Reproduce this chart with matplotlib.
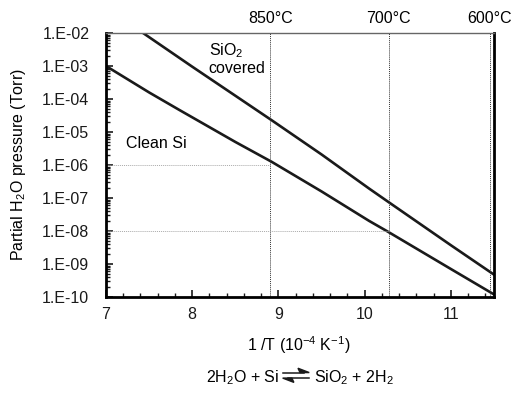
import numpy as np
import matplotlib
matplotlib.use("Agg")
import matplotlib.pyplot as plt
from matplotlib.ticker import MultipleLocator, LogLocator, NullFormatter
from matplotlib.patches import Polygon
from matplotlib.lines import Line2D

plt.rcParams['font.family'] = ['Liberation Sans', 'DejaVu Sans']
plt.rcParams['mathtext.fontset'] = 'custom'
plt.rcParams['mathtext.rm'] = 'Liberation Sans'
plt.rcParams['mathtext.it'] = 'Liberation Sans'

# data (1/T in 1e-4 K^-1, log10 pressure in Torr)
clean_x = [7.0, 7.5, 7.85, 8.5, 8.92, 9.5, 10.05, 10.27, 11.0, 11.5]
clean_log = [-3.0, -3.80, -4.33, -5.30, -5.90, -6.80, -7.69, -8.02, -9.15, -9.92]
oxide_x = [7.43, 8.0, 8.5, 8.92, 9.5, 10.05, 10.27, 11.0, 11.5]
oxide_log = [-2.0, -3.02, -3.90, -4.64, -5.68, -6.71, -7.11, -8.43, -9.32]
temps_c = [850, 700, 600]
guide_p = [1e-6, 1e-8]        # horizontal guides
guide_stop = [850, 700]       # which temperature line each guide runs to

FS = 11.5
fig = plt.figure(figsize=(5.12, 3.93), dpi=100)
ax = fig.add_axes([0.207, 0.244, 0.758, 0.672])

ax.plot(clean_x, 10 ** np.array(clean_log), color='#1a1a1a', lw=1.9)
ax.plot(oxide_x, 10 ** np.array(oxide_log), color='#1a1a1a', lw=1.9)

inv_t = [1e4 / (t + 273.15) for t in temps_c]
for xv, t in zip(inv_t, temps_c):
    ax.axvline(xv, color='#333333', lw=0.7, ls=(0, (1, 1)))
    ax.text(xv, 1.65e-2, f"{t}°C", ha='center', va='bottom', fontsize=FS)

for p, t in zip(guide_p, guide_stop):
    ax.plot([7, 1e4 / (t + 273.15)], [p, p], color='#aaaaaa', lw=0.7, ls=(0, (1, 1)))

ax.set_yscale('log')
ax.set_xlim(7, 11.5)
ax.set_ylim(1e-10, 1e-2)
ax.xaxis.set_major_locator(MultipleLocator(1))
ax.xaxis.set_minor_locator(MultipleLocator(0.2))
ax.yaxis.set_minor_locator(LogLocator(base=10, subs=np.arange(2, 10), numticks=20))
ax.yaxis.set_minor_formatter(NullFormatter())
ax.set_yticks([10.0 ** k for k in range(-10, -1)])
ax.set_yticklabels([f"1.E-{-k:02d}" for k in range(-10, -1)])
ax.tick_params(which='both', direction='in', labelsize=FS, colors='#1a1a1a')
ax.tick_params(which='major', length=5, width=1.2)
ax.tick_params(which='minor', length=3, width=1.0)
ax.tick_params(axis='x', pad=7)
ax.tick_params(axis='y', pad=12)

for s in ['left', 'bottom', 'right']:
    ax.spines[s].set_linewidth(2)
ax.spines['top'].set_linewidth(1)
ax.spines['top'].set_color('#666666')

ax.text(8.19, 10 ** -2.52, "SiO$_2$", fontsize=FS, va='center')
ax.text(8.19, 10 ** -3.08, "covered", fontsize=FS, va='center')
ax.text(7.23, 10 ** -5.36, "Clean Si", fontsize=FS, va='center')

fig.text(0.037, 0.58, "Partial H$_2$O pressure (Torr)", rotation=90,
         ha='center', va='center', fontsize=FS)
fig.text(0.583, 0.122, "1 /T (10$^{-4}$ K$^{-1}$)", ha='center', va='center', fontsize=FS)

# reaction line: text, double harpoon, text
ty = 0.040
fig.text(0.545, ty, "2H$_2$O + Si", ha='right', va='center', fontsize=FS)
fig.text(0.614, ty, "SiO$_2$ + 2H$_2$", ha='left', va='center', fontsize=FS)
x0, x1 = 0.552, 0.604
yu, yl = 0.052, 0.038
fig.add_artist(Line2D([x0, x1 - 0.01], [yu, yu], color='#1a1a1a', lw=1.1,
                      transform=fig.transFigure))
fig.add_artist(Polygon([[x1 - 0.018, yu], [x1, yu], [x1 - 0.022, yu + 0.011]],
                       closed=True, color='#1a1a1a', transform=fig.transFigure))
fig.add_artist(Line2D([x0 + 0.01, x1], [yl, yl], color='#1a1a1a', lw=1.1,
                      transform=fig.transFigure))
fig.add_artist(Polygon([[x0 + 0.018, yl], [x0, yl], [x0 + 0.022, yl - 0.011]],
                       closed=True, color='#1a1a1a', transform=fig.transFigure))

fig.savefig("out.png", dpi=100)
